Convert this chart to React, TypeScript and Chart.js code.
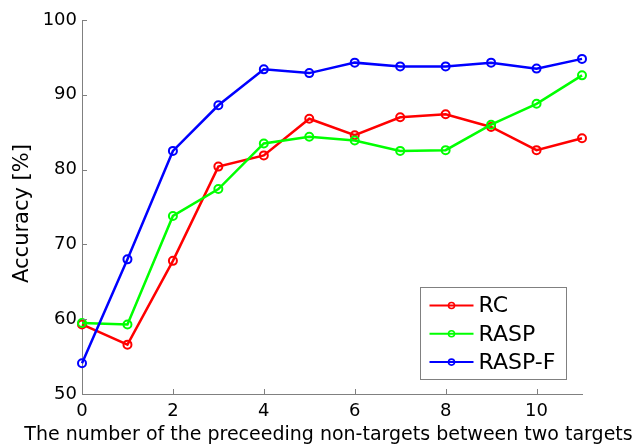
import React, { useEffect, useRef } from "react";
import { Chart, registerables } from "chart.js";

Chart.register(...registerables);

const xValues = [0, 1, 2, 3, 4, 5, 6, 7, 8, 9, 10, 11];
const rcValues = [59.3, 56.6, 67.8, 80.4, 81.9, 86.8, 84.6, 87.0, 87.4, 85.7, 82.6, 84.2];
const raspValues = [59.5, 59.3, 73.8, 77.4, 83.5, 84.4, 83.9, 82.5, 82.6, 86.0, 88.8, 92.6];
const raspFValues = [54.1, 68.0, 82.5, 88.6, 93.4, 92.9, 94.3, 93.8, 93.8, 94.3, 93.5, 94.8];
const seriesNames = ["RC", "RASP", "RASP-F"];
const seriesColors = ["#ff0000", "#00ff00", "#0000ff"];
const xTickValues = [0, 2, 4, 6, 8, 10];
const yTickValues = [50, 60, 70, 80, 90, 100];
const xTitle = "The number of the preceeding non-targets between two targets";
const yTitle = "Accuracy [%]";

const FONT = "'DejaVu Sans', 'Liberation Sans', Arial, sans-serif";
const AXIS_COLOR = "#808080";

const overlayPlugin = {
  id: "overlay",
  afterDraw(chart: any) {
    const ctx = chart.ctx;
    const xs = chart.scales.x;
    const ys = chart.scales.y;
    const area = chart.chartArea;
    ctx.save();
    // inward ticks
    ctx.strokeStyle = AXIS_COLOR;
    ctx.lineWidth = 1;
    ctx.beginPath();
    for (const v of yTickValues) {
      const py = Math.round(ys.getPixelForValue(v)) + 0.5;
      ctx.moveTo(area.left, py);
      ctx.lineTo(area.left + 5, py);
    }
    for (const v of xTickValues) {
      const px = Math.round(xs.getPixelForValue(v)) + 0.5;
      ctx.moveTo(px, area.bottom);
      ctx.lineTo(px, area.bottom - 5);
    }
    ctx.stroke();

    ctx.fillStyle = "#000";
    ctx.textAlign = "center";
    ctx.textBaseline = "middle";

    // x title
    ctx.font = `19px ${FONT}`;
    ctx.fillText(xTitle, (area.left + area.right) / 2 - 3.5, 435);

    // y title
    ctx.save();
    ctx.translate(22.5, (area.top + area.bottom) / 2 + 6.5);
    ctx.rotate(-Math.PI / 2);
    ctx.font = `21px ${FONT}`;
    ctx.fillText(yTitle, 0, 0);
    ctx.restore();

    // legend
    const bw = 146;
    const bh = 92;
    const bx = Math.round(area.right - 16 - bw) + 0.5;
    const by = Math.round(area.bottom - 15 - bh) + 0.5;
    ctx.fillStyle = "#fff";
    ctx.fillRect(bx, by, bw, bh);
    ctx.strokeStyle = AXIS_COLOR;
    ctx.lineWidth = 1;
    ctx.strokeRect(bx, by, bw, bh);
    ctx.font = `22px ${FONT}`;
    ctx.textAlign = "left";
    ctx.textBaseline = "middle";
    chart.data.datasets.forEach((ds: any, i: number) => {
      const cy = by + 18 + i * 28.3;
      ctx.strokeStyle = ds.borderColor;
      ctx.lineWidth = 2;
      ctx.beginPath();
      ctx.moveTo(bx + 9, cy);
      ctx.lineTo(bx + 53, cy);
      ctx.stroke();
      ctx.lineWidth = 1.6;
      ctx.beginPath();
      ctx.arc(bx + 31, cy, 3, 0, Math.PI * 2);
      ctx.stroke();
      ctx.fillStyle = "#000";
      ctx.fillText(ds.label, bx + 58, cy + 1);
    });
    ctx.restore();
  },
};

export default function App() {
  const canvasRef = useRef<HTMLCanvasElement | null>(null);

  useEffect(() => {
    const canvas = canvasRef.current;
    if (!canvas) return;
    const seriesValues = [rcValues, raspValues, raspFValues];
    const datasets = seriesValues.map((vals, i) => ({
      label: seriesNames[i],
      data: xValues.map((x, j) => ({ x, y: vals[j] })),
      borderColor: seriesColors[i],
      backgroundColor: "rgba(0,0,0,0)",
      pointBorderColor: seriesColors[i],
      pointBackgroundColor: "rgba(0,0,0,0)",
      borderWidth: 2.5,
      pointRadius: 4,
      pointBorderWidth: 2,
      tension: 0,
      clip: false as any,
      order: seriesValues.length - i,
    }));

    const chart = new Chart(canvas, {
      type: "line",
      data: { datasets },
      options: {
        responsive: false,
        animation: false,
        devicePixelRatio: 1,
        layout: { padding: { top: 20, right: 60, left: 0, bottom: 0 } },
        plugins: {
          legend: { display: false },
          tooltip: { enabled: false },
        },
        scales: {
          x: {
            type: "linear",
            min: 0,
            max: 11,
            afterBuildTicks: (s: any) => {
              s.ticks = xTickValues.map((v) => ({ value: v }));
            },
            afterFit: (s: any) => {
              s.height = 54;
            },
            grid: { display: false, drawTicks: false },
            border: { display: true, color: AXIS_COLOR, width: 1 },
            ticks: {
              color: "#000",
              font: { family: FONT, size: 18 },
              padding: 7,
              maxRotation: 0,
              autoSkip: false,
            },
          },
          y: {
            type: "linear",
            min: 50,
            max: 100,
            afterBuildTicks: (s: any) => {
              s.ticks = yTickValues.map((v) => ({ value: v }));
            },
            afterFit: (s: any) => {
              s.width = 82;
            },
            grid: { display: false, drawTicks: false },
            border: { display: true, color: AXIS_COLOR, width: 1 },
            ticks: {
              color: "#000",
              font: { family: FONT, size: 18 },
              padding: 5,
              autoSkip: false,
            },
          },
        },
      },
      plugins: [overlayPlugin],
    });
    return () => chart.destroy();
  }, []);

  return (
    <div style={{ position: "absolute", left: 0, top: 0, width: 642, height: 448, background: "#fff" }}>
      <canvas ref={canvasRef} width={642} height={448} style={{ display: "block" }} />
    </div>
  );
}
